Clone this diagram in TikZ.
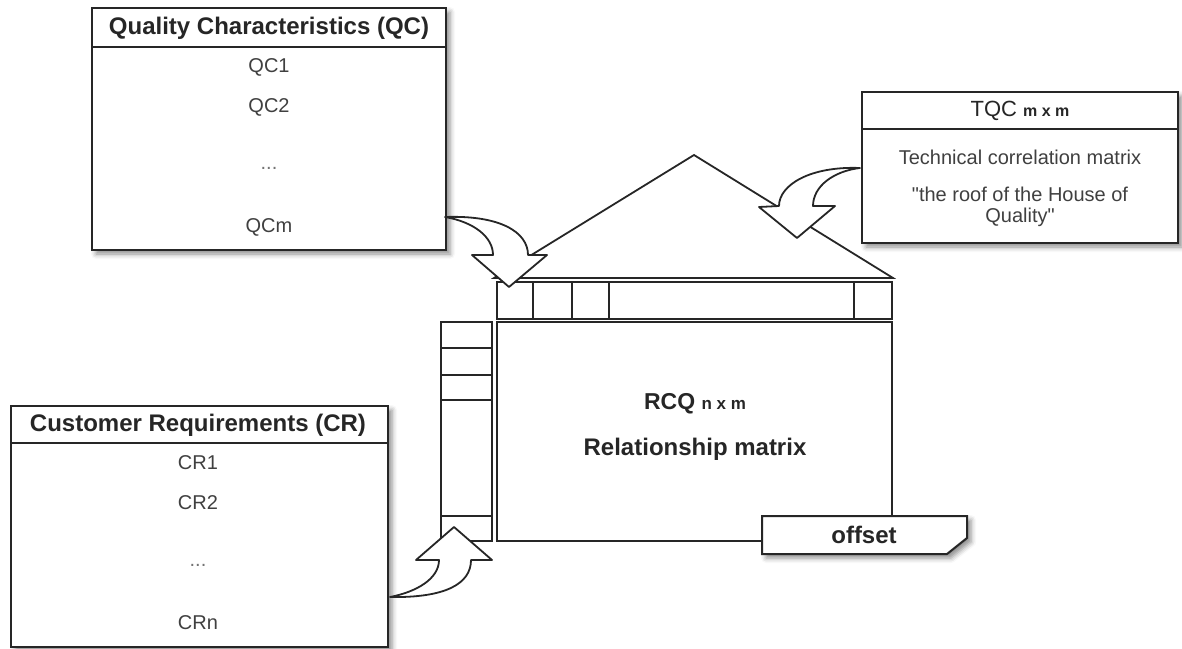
\documentclass[tikz,border=0pt]{standalone}
\usepackage{fontspec}
\setmainfont{Liberation Sans}[Ligatures=TeXOff]
\usetikzlibrary{shadows.blur}
\tikzset{
  box/.style={draw=black!85, fill=white, line width=1pt, inner sep=0pt,
    blur shadow={shadow xshift=2pt, shadow yshift=-2pt, shadow blur radius=2.5pt, shadow opacity=45}},
  cell/.style={draw=black!85, line width=1pt, inner sep=0pt},
  title/.style={font=\fontsize{12}{14}\selectfont\bfseries, text=black!85},
  item/.style={font=\fontsize{10}{10.5}\selectfont, text=black!75, align=center},
  bigarrow/.style={draw=black!85, fill=white, line width=0.9pt, line join=round},
}
\begin{document}
\begin{tikzpicture}[x=0.5pt, y=-0.5pt]
  \useasboundingbox (0,0) rectangle (1182,648);
  % list boxes
  \node[box, minimum width=177pt, minimum height=121pt] (qc) at (269,129) {};
  \draw[cell] (92,47) -- (446,47);
  \node[title] (qctitle) at (269,28) {Quality Characteristics (QC)};
  \node[item] (qc1) at (269,67) {QC1};
  \node[item] (qc2) at (269,107) {QC2};
  \node[item, text=black!55] (qcdots) at (269,168) {...};
  \node[item] (qcm) at (269,227) {QCm};
  \node[box, minimum width=158pt, minimum height=75.5pt] (tqc) at (1020,167.5) {};
  \draw[cell] (862,129) -- (1178,129);
  \node[font=\fontsize{11}{13}\selectfont, text=black!85] (tqctitle) at (1020,111)
    {TQC {\fontsize{8}{10}\selectfont\bfseries m x m}};
  \node[item] (tqc1) at (1020,157) {Technical correlation matrix};
  \node[item] (tqc2) at (1020,207) {"the roof of the House of\\Quality"};
  \node[box, minimum width=188.5pt, minimum height=120.5pt] (cr) at (199.5,526.5) {};
  \draw[cell] (11,443) -- (388,443);
  \node[title] (crtitle) at (198,425) {Customer Requirements (CR)};
  \node[item] (cr1) at (198,463) {CR1};
  \node[item] (cr2) at (198,503) {CR2};
  \node[item, text=black!55] (crdots) at (198,565) {...};
  \node[item] (crn) at (198,623) {CRn};
  % house
  \draw[cell, line width=0.9pt] (494,278) -- (694,155) -- (893,278) -- cycle;
  \node[cell, minimum width=197.5pt, minimum height=18.5pt] (qcrow) at (694.5,300.5) {};
  \draw[cell] (533,282) -- (533,319);
  \draw[cell] (572,282) -- (572,319);
  \draw[cell] (609,282) -- (609,319);
  \draw[cell] (854,282) -- (854,319);
  \node[cell, minimum width=25.5pt, minimum height=109.5pt] (crcol) at (466.5,431.5) {};
  \draw[cell] (441,348) -- (492,348);
  \draw[cell] (441,375) -- (492,375);
  \draw[cell] (441,400) -- (492,400);
  \draw[cell] (441,516) -- (492,516);
  \node[cell, minimum width=197.5pt, minimum height=109.5pt] (rcq) at (694.5,431.5) {};
  \node[font=\fontsize{11.5}{14}\selectfont\bfseries, text=black!85] (rcqtitle) at (695,404)
    {RCQ {\fontsize{8.5}{10}\selectfont n x m}};
  \node[title] (rcqtext) at (695,449) {Relationship matrix};
  \draw[box] (762,516) -- (967,516) -- (967,538) -- (947,554) -- (762,554) -- cycle;
  \node[title] (offset) at (864,535) {offset};
  % curved arrows
  \coordinate (qctail) at (445,217);
  \coordinate (tqctail) at (860,168);
  \coordinate (crtail) at (390,597);
  \draw[bigarrow] (qctail) .. controls (500,215) and (528,232) .. (528,255)
    -- (547,255) -- (509,287) -- (472,255) -- (493,255)
    .. controls (493,237) and (474,222) .. (qctail) -- cycle;
  \draw[bigarrow] (tqctail) .. controls (810,166) and (779,185) .. (779,206)
    -- (759,207) -- (797,238) -- (835,206) -- (813,206)
    .. controls (813,186) and (834,171) .. (tqctail) -- cycle;
  \draw[bigarrow] (crtail) .. controls (445,598) and (471,584) .. (471,560)
    -- (492,560) -- (454,527) -- (416,560) -- (439,560)
    .. controls (439,579) and (416,592) .. (crtail) -- cycle;
\end{tikzpicture}
\end{document}
